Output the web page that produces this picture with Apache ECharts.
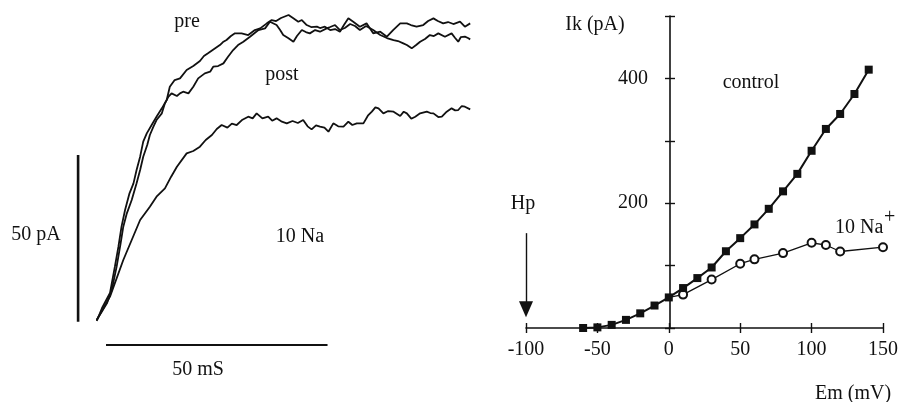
<!DOCTYPE html>
<html>
<head>
<meta charset="utf-8">
<script src="https://cdn.jsdelivr.net/npm/echarts@6/dist/echarts.min.js"></script>
<style>
  html, body { margin: 0; padding: 0; background: #fff; }
  #main { width: 901px; height: 402px; }
</style>
</head>
<body>
<div id="main"></div>
<script>
// left panel: current traces, [time ms, current pA]
var preTrace = [
  [0,0.2],[1.2,4.1],[3.0,8.6],[4.1,16.5],[4.9,22.5],[5.6,28.5],[6.4,33.5],[7.4,38.5],[8.3,41.5],[9.0,45.5],
  [9.8,49.5],[10.5,54.0],[11.3,56.5],[12.4,59.0],[13.5,61.5],[14.7,64.0],[15.8,66.5],[16.5,70.5],[17.6,72.5],
  [18.8,73.0],[20.3,75.5],[21.8,76.7],[23.3,78.2],[24.2,79.7],[25.2,80.6],[26.5,81.8],[27.8,83.0],[28.5,83.9],
  [29.3,84.5],[30.3,85.7],[31.2,86.5],[32.7,86.5],[34.2,86.0],[35.7,87.5],[36.9,88.0],[38.4,89.5],[39.5,90.5],
  [40.5,90.2],[41.6,91.1],[43.3,92.0],[44.3,91.1],[45.5,90.0],[46.3,90.5],[47.4,89.0],[48.4,88.4],[49.7,88.5],
  [50.4,88.1],[51.5,88.5],[52.7,87.5],[53.8,87.8],[54.9,87.0],[55.8,89.0],[56.8,91.0],[57.9,90.0],[59.4,88.5],
  [60.9,89.5],[62.4,86.5],[64.0,87.0],[65.5,85.5],[66.9,87.5],[68.5,89.5],[70.0,89.5],[70.9,89.0],[72.2,88.5],
  [73.7,89.0],[74.8,90.2],[76.0,91.0],[77.0,90.2],[78.2,89.5],[79.3,89.9],[80.5,89.3],[82.0,90.0],[83.1,88.5],
  [84.3,89.5]
];
var postTrace = [
  [0,0.5],[2.3,5.5],[3.4,9.5],[4.5,16.5],[5.4,23.5],[6.0,28.5],[6.8,32.5],[7.9,36.5],[9.0,41.5],[9.8,45.5],
  [10.5,49.5],[11.4,53.0],[12.0,56.0],[12.8,58.5],[13.5,60.5],[14.7,62.5],[15.4,65.5],[16.2,67.5],[16.9,68.5],
  [18.1,67.7],[18.8,68.5],[19.5,69.0],[20.7,68.5],[21.8,70.5],[22.9,73.0],[24.4,74.5],[25.6,75.0],[26.3,76.5],
  [27.4,76.7],[28.6,77.5],[29.6,79.4],[30.8,81.5],[31.9,83.0],[33.1,84.0],[34.6,85.5],[36.5,87.5],[38.0,88.0],
  [39.1,90.0],[40.6,89.0],[41.4,87.5],[42.1,86.0],[43.2,85.1],[44.4,84.0],[45.2,85.7],[46.3,87.5],[47.2,86.9],
  [48.1,86.5],[49.3,87.5],[50.4,87.0],[51.9,88.0],[52.7,88.4],[53.8,89.0],[54.9,87.5],[56.0,88.1],[57.2,89.3],
  [58.3,88.7],[59.4,87.5],[60.8,88.7],[62.4,87.5],[64.0,86.0],[65.5,85.1],[67.0,84.5],[68.0,84.2],[69.2,83.5],
  [70.0,83.0],[71.1,82.0],[72.1,83.0],[73.0,84.0],[74.1,84.8],[75.2,86.0],[76.1,85.7],[77.1,86.5],[78.6,85.5],
  [80.1,86.5],[80.9,85.1],[81.6,84.0],[82.2,85.4],[83.1,85.5],[83.8,85.1],[84.3,84.7]
];
var naTrace = [
  [0,0.5],[3.0,7.5],[6.0,18.5],[7.9,24.5],[9.8,30.5],[12.0,34.5],[13.5,37.5],[15.4,40.0],[16.8,43.5],[18.1,46.5],
  [20.3,50.5],[21.8,51.2],[23.3,52.5],[24.6,54.5],[26.0,56.0],[27.1,57.8],[28.2,59.0],[29.5,58.2],[30.5,59.4],
  [31.6,59.0],[32.9,60.6],[34.2,61.5],[35.2,61.0],[36.1,62.5],[37.4,61.0],[38.7,61.5],[39.6,60.3],[40.6,61.0],
  [41.8,60.0],[42.9,59.5],[44.2,60.2],[45.4,59.6],[46.6,60.5],[47.6,58.6],[48.5,57.7],[49.5,58.9],[50.4,58.5],
  [51.4,58.2],[52.3,57.0],[53.4,59.5],[54.5,58.6],[55.7,58.5],[56.8,60.0],[57.7,59.0],[58.7,59.5],[60.2,59.5],
  [61.2,61.8],[62.1,63.0],[62.9,64.3],[63.6,64.0],[64.7,62.5],[65.8,63.2],[67.0,63.0],[68.5,61.7],[69.3,63.0],
  [70.0,62.5],[71.0,60.9],[71.9,61.5],[73.0,62.5],[74.5,63.0],[75.3,62.6],[76.0,62.5],[77.1,61.4],[77.9,61.5],
  [79.0,63.0],[80.1,64.0],[80.9,63.4],[81.6,63.5],[82.4,64.7],[83.1,64.5],[84.3,63.7]
];
// scale bars, [time ms, current pA]
var pAScaleBar = [[-4.2, 0], [-4.2, 50]];
var msScaleBar = [[2.1, -7], [52.1, -7]];

// right panel: I-V relation
var emControl = [-60,-50,-40,-30,-20,-10,0,10,20,30,40,50,60,70,80,90,100,110,120,130,140];
var ikControl = [0,1,5,13,23.5,36,49,64,80,97,123,144,166,191,219,247,284,319,343,375,414];
var emNa = [0,10,30,50,60,80,100,110,120,150];
var ikNa = [49,53.5,77.6,103,110,120,136.5,133,122.6,129.5];
var ikLabelled = [200,400];
var holdingPotential = -100;

var ink = '#111';
var serif = '"Liberation Serif", "DejaVu Serif", serif';
// right grid spans -100..150 mV over 360 px; y axis sits at 0 mV
var yAxisShift = -100 * 360 / 250;

function pairs(xs, ys) {
  return xs.map(function (x, i) { return [x, ys[i]]; });
}

var myChart = echarts.init(document.getElementById('main'), null, { renderer: 'canvas' });

var tickStyle = { color: ink, width: 1.4 };

// the 10 Na+ curve leaves from the control point at 0 mV, which keeps its square
var naPoints = pairs(emNa, ikNa).map(function (p, i) {
  return i === 0 ? { value: p, symbol: 'none' } : p;
});

var option = {
  backgroundColor: '#fff',
  animation: false,
  textStyle: { fontFamily: serif, color: ink },
  grid: [
    { left: 52.4, right: 427.7, top: 1.7, bottom: 47 },
    { left: 526, right: 15, top: 16, bottom: 74 }
  ],
  xAxis: [
    { gridIndex: 0, type: 'value', min: -10, max: 85, show: false },
    {
      gridIndex: 1, type: 'value', min: -100, max: 150, interval: 50, position: 'bottom',
      splitLine: { show: false },
      axisLine: { onZero: false, lineStyle: { color: ink, width: 1.6 } },
      axisTick: { show: true, length: 5, lineStyle: tickStyle },
      axisLabel: { color: ink, fontFamily: serif, fontSize: 20, margin: 12 }
    },
    {
      gridIndex: 1, type: 'value', min: -100, max: 150, interval: 50, position: 'bottom',
      splitLine: { show: false },
      axisLine: { show: false, onZero: false },
      axisTick: { show: true, inside: true, length: 5, lineStyle: tickStyle },
      axisLabel: { show: false }
    }
  ],
  yAxis: [
    { gridIndex: 0, type: 'value', min: -10, max: 96, show: false },
    {
      gridIndex: 1, type: 'value', min: 0, max: 500, interval: 100, position: 'left',
      offset: yAxisShift,
      splitLine: { show: false },
      axisLine: { onZero: false, lineStyle: { color: ink, width: 1.6 } },
      axisTick: { show: true, length: 5, lineStyle: tickStyle },
      axisLabel: {
        color: ink, fontFamily: serif, fontSize: 20, margin: 22,
        formatter: function (v) { return ikLabelled.indexOf(v) >= 0 ? String(v) : ''; }
      }
    },
    {
      gridIndex: 1, type: 'value', min: 0, max: 500, interval: 100, position: 'left',
      offset: yAxisShift,
      splitLine: { show: false },
      axisLine: { show: false, onZero: false },
      axisTick: { show: true, inside: true, length: 5, lineStyle: tickStyle },
      axisLabel: { show: false }
    }
  ],
  series: [
    {
      name: 'pre', type: 'line', xAxisIndex: 0, yAxisIndex: 0, data: preTrace,
      showSymbol: false, lineStyle: { color: ink, width: 1.8 }
    },
    {
      name: 'post', type: 'line', xAxisIndex: 0, yAxisIndex: 0, data: postTrace,
      showSymbol: false, lineStyle: { color: ink, width: 1.8 }
    },
    {
      name: '10 Na', type: 'line', xAxisIndex: 0, yAxisIndex: 0, data: naTrace,
      showSymbol: false, lineStyle: { color: ink, width: 1.8 }
    },
    {
      name: '50 pA', type: 'line', xAxisIndex: 0, yAxisIndex: 0, data: pAScaleBar,
      showSymbol: false, lineStyle: { color: ink, width: 2.6 }
    },
    {
      name: '50 mS', type: 'line', xAxisIndex: 0, yAxisIndex: 0, data: msScaleBar,
      showSymbol: false, lineStyle: { color: ink, width: 2.2 }
    },
    {
      name: '10 Na+', type: 'line', xAxisIndex: 1, yAxisIndex: 1, data: naPoints,
      symbol: 'emptyCircle', symbolSize: 8,
      lineStyle: { color: ink, width: 1.3 },
      itemStyle: { color: ink, borderWidth: 1.3 },
      markLine: {
        silent: true, symbol: ['none', 'triangle'], symbolSize: [14, 16],
        label: { show: false },
        lineStyle: { color: ink, width: 1.4, type: 'solid' },
        data: [[{ coord: [holdingPotential, 152] }, { coord: [holdingPotential, 30] }]]
      }
    },
    {
      name: 'control', type: 'line', xAxisIndex: 1, yAxisIndex: 1, data: pairs(emControl, ikControl),
      symbol: 'rect', symbolSize: 8,
      lineStyle: { color: ink, width: 2 },
      itemStyle: { color: ink }
    }
  ],
  graphic: [
    { type: 'text', x: 187, y: 22, style: { text: 'pre', font: '20px ' + serif, fill: ink, textAlign: 'center', textVerticalAlign: 'middle' } },
    { type: 'text', x: 282, y: 75, style: { text: 'post', font: '20px ' + serif, fill: ink, textAlign: 'center', textVerticalAlign: 'middle' } },
    { type: 'text', x: 300, y: 237, style: { text: '10 Na', font: '20px ' + serif, fill: ink, textAlign: 'center', textVerticalAlign: 'middle' } },
    { type: 'text', x: 36, y: 235, style: { text: '50 pA', font: '20px ' + serif, fill: ink, textAlign: 'center', textVerticalAlign: 'middle' } },
    { type: 'text', x: 198, y: 370, style: { text: '50 mS', font: '20px ' + serif, fill: ink, textAlign: 'center', textVerticalAlign: 'middle' } },
    { type: 'text', x: 595, y: 25, style: { text: 'Ik (pA)', font: '20px ' + serif, fill: ink, textAlign: 'center', textVerticalAlign: 'middle' } },
    { type: 'text', x: 751, y: 83, style: { text: 'control', font: '20px ' + serif, fill: ink, textAlign: 'center', textVerticalAlign: 'middle' } },
    { type: 'text', x: 523, y: 204, style: { text: 'Hp', font: '20px ' + serif, fill: ink, textAlign: 'center', textVerticalAlign: 'middle' } },
    { type: 'text', x: 853, y: 394, style: { text: 'Em (mV)', font: '20px ' + serif, fill: ink, textAlign: 'center', textVerticalAlign: 'middle' } },
    { type: 'text', x: 835, y: 228, style: { text: '10 Na', font: '20px ' + serif, fill: ink, textAlign: 'left', textVerticalAlign: 'middle' } },
    { type: 'text', x: 884, y: 218, style: { text: '+', font: '20px ' + serif, fill: ink, textAlign: 'left', textVerticalAlign: 'middle' } }
  ]
};

myChart.setOption(option);
</script>
</body>
</html>
